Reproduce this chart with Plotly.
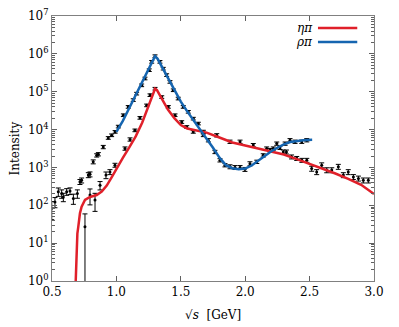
import numpy as np
import plotly.graph_objects as go

# fitted curves (x in GeV, log10 of intensity)
eta_fit_x = [0.679, 0.685, 0.691, 0.697, 0.704, 0.710, 0.717, 0.730, 0.756, 0.795, 0.847, 0.886,
             0.925, 0.963, 1.0, 1.05, 1.1, 1.15, 1.2, 1.24, 1.27, 1.29, 1.30, 1.315, 1.34,
             1.37, 1.40, 1.45, 1.5, 1.55, 1.6, 1.65, 1.7, 1.8, 1.9, 2.0, 2.1, 2.2, 2.3, 2.4,
             2.5, 2.6, 2.7, 2.8, 2.9, 3.0]
eta_fit_log = [-0.5, 0.3, 0.99, 1.25, 1.43, 1.62, 1.79, 1.96, 2.14, 2.22, 2.27, 2.36,
               2.52, 2.74, 2.97, 3.25, 3.53, 3.82, 4.18, 4.55, 4.85, 5.03, 5.08, 5.04, 4.88,
               4.70, 4.53, 4.30, 4.12, 4.03, 3.99, 3.97, 3.92, 3.79, 3.66, 3.58, 3.50, 3.42, 3.34, 3.22,
               3.10, 2.97, 2.84, 2.70, 2.54, 2.30]

rho_fit_x = [1.0, 1.05, 1.1, 1.15, 1.2, 1.25, 1.28, 1.30, 1.32, 1.35, 1.4, 1.45, 1.5, 1.55,
             1.6, 1.65, 1.7, 1.75, 1.8, 1.85, 1.9, 1.95, 2.0, 2.05, 2.1, 2.15, 2.2, 2.25,
             2.3, 2.35, 2.4, 2.45, 2.52]
rho_fit_log = [3.94, 4.23, 4.57, 4.92, 5.27, 5.60, 5.83, 5.94, 5.87, 5.68, 5.40, 5.05, 4.74, 4.48,
               4.25, 4.00, 3.76, 3.52, 3.26, 3.06, 2.98, 2.95, 2.97, 3.05, 3.18, 3.31, 3.42, 3.52,
               3.61, 3.67, 3.70, 3.72, 3.73]

# data points (log10 of intensity, error in percent)
rho_x = [0.498, 0.523, 0.549, 0.575, 0.588, 0.614, 0.64, 0.666, 0.697, 0.717, 0.73, 0.782, 0.795,
         0.82, 0.847, 0.86, 0.898, 0.937, 0.963, 0.99, 1.015, 1.054, 1.092, 1.131, 1.157, 1.196,
         1.222, 1.255, 1.274, 1.30, 1.338, 1.364, 1.39, 1.416, 1.442, 1.48, 1.519, 1.558, 1.597,
         1.636, 1.675, 1.714, 1.765, 1.804, 1.843, 1.882, 1.921, 1.96, 1.998, 2.037, 2.09, 2.14,
         2.193, 2.218, 2.27, 2.31, 2.348, 2.387, 2.439, 2.478]
rho_log = [1.92, 2.09, 2.36, 2.31, 2.22, 2.36, 2.38, 2.18, 2.31, 2.62, 2.66, 2.80, 2.82,
           3.15, 3.32, 3.35, 3.54, 3.78, 3.85, 3.94, 4.08, 4.38, 4.60, 4.78, 4.95, 5.17,
           5.35, 5.57, 5.79, 5.94, 5.79, 5.61, 5.44, 5.26, 5.04, 4.82, 4.60, 4.47, 4.29,
           4.16, 3.85, 3.72, 3.41, 3.19, 3.06, 3.02, 3.00, 3.00, 2.95, 3.10, 3.15, 3.32,
           3.46, 3.50, 3.52, 3.63, 3.72, 3.68, 3.68, 3.72]
rho_err = [50, 30, 25, 25, 25, 20, 20, 30, 25, 15, 15, 15, 15,
           12, 10, 10, 10, 8, 8, 8, 8, 8, 8, 8, 8, 8,
           8, 8, 8, 8, 8, 8, 8, 8, 8, 8, 8, 8, 8,
           8, 8, 10, 10, 10, 10, 12, 12, 12, 12, 12, 10, 10,
           10, 10, 10, 10, 10, 10, 10, 10]

eta_x = [0.756, 0.795, 0.834, 0.873, 0.919, 0.95, 0.989, 1.067, 1.106, 1.144, 1.183, 1.235,
         1.261, 1.30, 1.352, 1.403, 1.455, 1.507, 1.546, 1.597, 1.675, 1.779, 1.882, 1.96,
         2.063, 2.167, 2.245, 2.296, 2.32, 2.36, 2.40, 2.44, 2.478, 2.516, 2.555, 2.594,
         2.633, 2.672, 2.723, 2.762, 2.80, 2.84, 2.879, 2.917, 2.956]
eta_log = [1.43, 2.27, 2.14, 2.53, 2.80, 2.88, 3.06, 3.50, 3.74, 3.98, 4.31, 4.64,
           4.91, 5.08, 4.86, 4.60, 4.38, 4.20, 4.07, 3.94, 3.94, 3.85, 3.68, 3.68,
           3.59, 3.50, 3.63, 3.41, 3.41, 3.28, 3.24, 3.19, 3.19, 2.97, 2.88, 3.06,
           2.93, 2.93, 3.02, 2.80, 2.88, 2.75, 2.71, 2.66, 2.66]
eta_err = [120, 45, 50, 25, 20, 15, 12, 10, 10, 8, 8, 8,
           8, 8, 8, 8, 8, 8, 8, 8, 10, 10, 10, 10,
           10, 10, 10, 12, 12, 12, 12, 12, 12, 15, 15, 15,
           15, 15, 15, 15, 15, 15, 15, 15, 15]

y_tick_vals = [1, 10, 100, 1000, 10000, 100000, 1000000, 10000000]
y_tick_text = ["10<sup>0</sup>", "10<sup>1</sup>", "10<sup>2</sup>", "10<sup>3</sup>",
               "10<sup>4</sup>", "10<sup>5</sup>", "10<sup>6</sup>", "10<sup>7</sup>"]

red = "#e0202a"
blue = "#1565b0"
font = "DejaVu Serif, Liberation Serif, serif"

fig = go.Figure()

for xs, ls, es in [(rho_x, rho_log, rho_err), (eta_x, eta_log, eta_err)]:
    ys = 10 ** np.array(ls)
    fig.add_trace(go.Scatter(
        x=xs, y=ys, mode="markers",
        marker=dict(color="black", size=3),
        error_y=dict(type="data", array=ys * np.array(es) / 100, color="black",
                     thickness=1, width=2.5),
        showlegend=False, cliponaxis=True))

fig.add_trace(go.Scatter(x=eta_fit_x, y=10 ** np.array(eta_fit_log), mode="lines",
                         line=dict(color=red, width=2.5), showlegend=False))
fig.add_trace(go.Scatter(x=rho_fit_x, y=10 ** np.array(rho_fit_log), mode="lines",
                         line=dict(color=blue, width=2.5), showlegend=False))

# gnuplot style key: label on the left, line sample on the right
for label, col, yy in [("<i>ηπ</i>", red, 0.955), ("<i>ρπ</i>", blue, 0.902)]:
    fig.add_annotation(x=0.818, y=yy, xref="paper", yref="paper", text=label,
                       showarrow=False, xanchor="right", yanchor="middle",
                       font=dict(family=font, size=12, color="black"))
    fig.add_shape(type="line", xref="paper", yref="paper", x0=0.826, x1=0.948,
                  y0=yy, y1=yy, line=dict(color=col, width=2.5))

# axis titles
fig.add_annotation(x=-0.118, y=0.5, xref="paper", yref="paper", text="Intensity",
                   textangle=-90, showarrow=False, xanchor="center", yanchor="middle",
                   font=dict(family=font, size=12, color="black"))
fig.add_annotation(x=0.5, y=-0.128, xref="paper", yref="paper", text="√<i>s</i>  [GeV]",
                   showarrow=False, xanchor="center", yanchor="middle",
                   font=dict(family=font, size=12, color="black"))

axis_common = dict(showline=True, linecolor="#808080", linewidth=1, mirror="allticks",
                   ticks="inside", tickcolor="#606060", showgrid=False, zeroline=False,
                   automargin=False, ticklabeloverflow="allow",
                   tickfont=dict(family=font, size=12, color="black"))

fig.update_xaxes(range=[0.5, 3.0], dtick=0.5, tickformat=".1f", ticklen=5, **axis_common)
fig.update_yaxes(type="log", range=[0, 7], tickvals=y_tick_vals, ticktext=y_tick_text, ticklen=5,
                 minor=dict(ticks="inside", ticklen=3, tickcolor="#606060", dtick="D1"),
                 **axis_common)

# the page body adds an 8px offset, so the figure is a little smaller than the window
fig.update_layout(width=391, height=319, margin=dict(l=44, r=25, t=8, b=46),
                  plot_bgcolor="white", paper_bgcolor="white")

fig.write_html("out.html")
